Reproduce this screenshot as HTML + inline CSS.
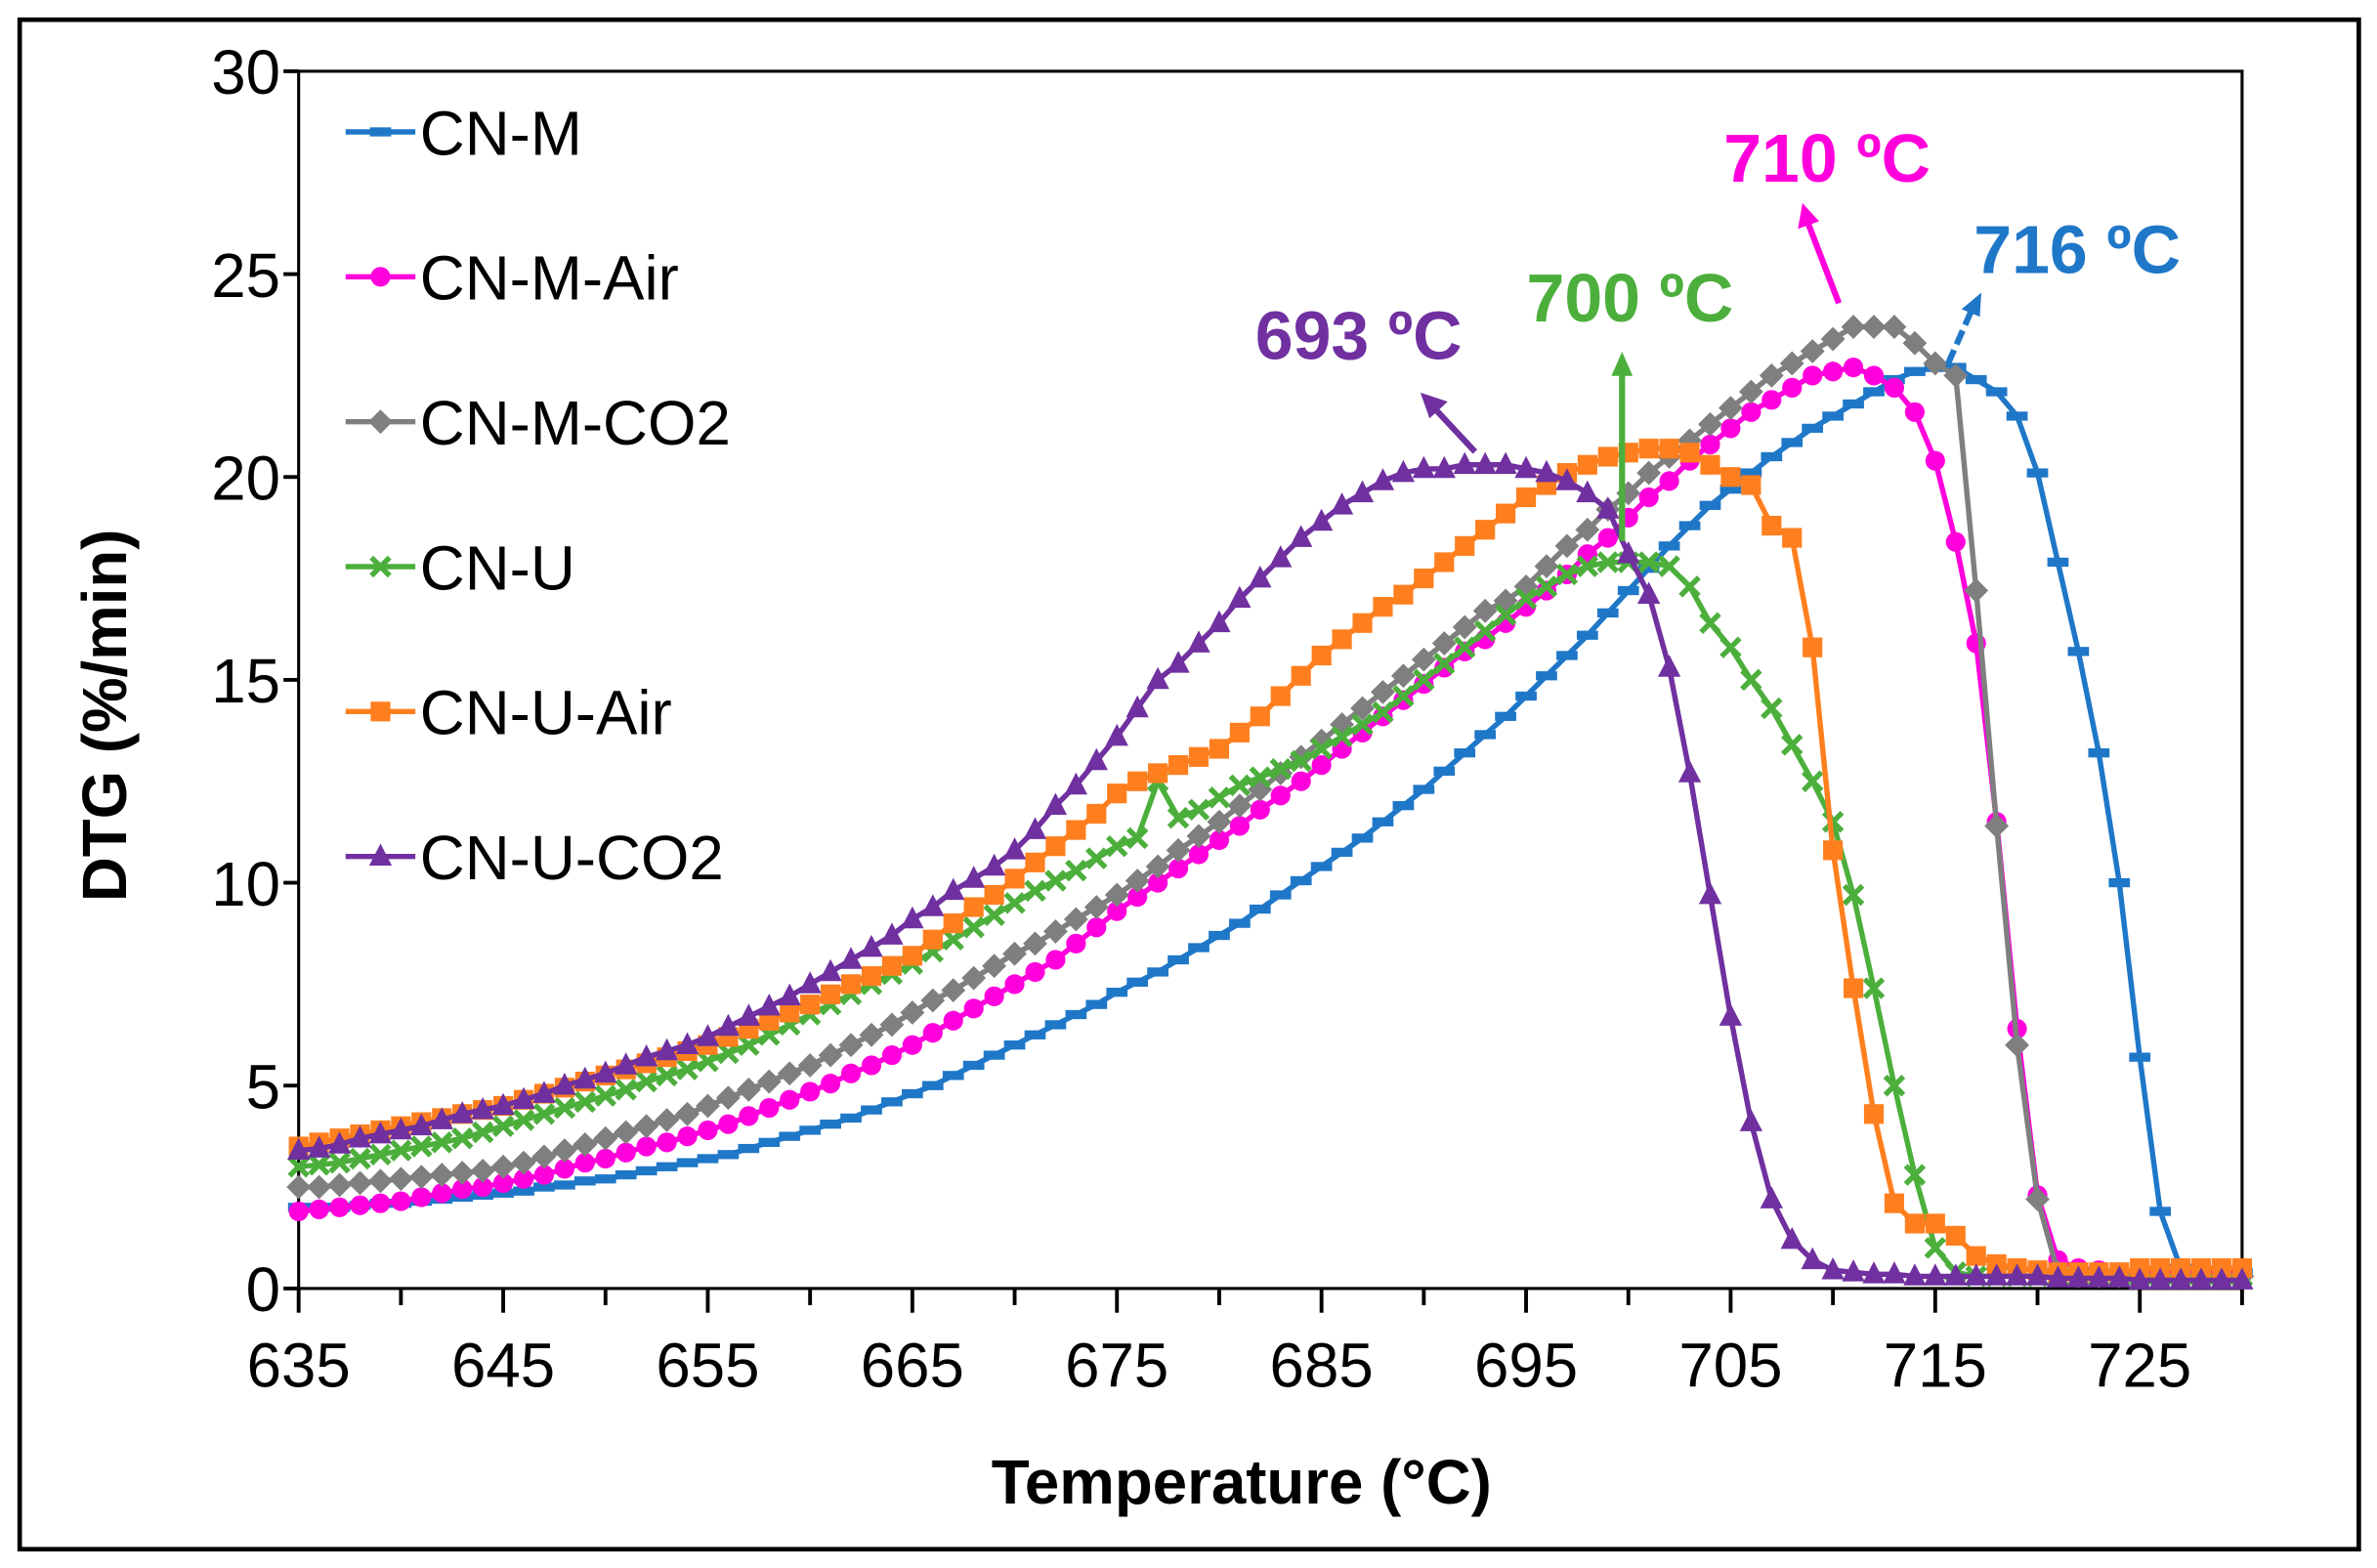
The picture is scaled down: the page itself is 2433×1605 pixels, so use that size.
<!DOCTYPE html>
<html><head><meta charset="utf-8"><style>
html,body{margin:0;padding:0;background:#fff;}
svg{display:block;}
text{font-family:"Liberation Sans",Arial,sans-serif;}
</style></head><body>
<svg id="chart" width="2433" height="1605" viewBox="0 0 1568 1034.4" preserveAspectRatio="none" xmlns="http://www.w3.org/2000/svg">
<rect x="13" y="13" width="1543" height="1009" fill="#fff" stroke="#000" stroke-width="3"/>
<g id="axes"></g>
<g id="series"></g>
<g id="legend"></g>
<g id="annotations" font-weight="bold" font-size="45">
<text x="828" y="237" fill="#7030A0">693 ºC</text>
<line x1="973" y1="298" x2="945" y2="268" stroke="#7030A0" stroke-width="4"/>
<polygon points="937,259 955,265 943,276" fill="#7030A0"/>
<text x="1007" y="212" fill="#4CAF3C">700 ºC</text>
<line x1="1070" y1="357" x2="1070" y2="245" stroke="#4CAF3C" stroke-width="4"/>
<polygon points="1070,232 1063,248 1077,248" fill="#4CAF3C"/>
<text x="1137" y="120" fill="#FF00DC">710 ºC</text>
<line x1="1213" y1="200" x2="1193" y2="148" stroke="#FF00DC" stroke-width="4"/>
<polygon points="1189,134 1186,151 1200,146" fill="#FF00DC"/>
<text x="1302" y="180" fill="#1F77C8">716 ºC</text>
<line x1="1285" y1="240" x2="1300" y2="206" stroke="#1F77C8" stroke-width="4" stroke-dasharray="10,4"/>
<polygon points="1307,193 1294,204 1306,209" fill="#1F77C8"/>
</g>
</svg>
<script>
const temps = [];
for (let t = 635; t <= 730; t++) temps.push(t);
const seriesNames = ["CN-M","CN-M-Air","CN-M-CO2","CN-U","CN-U-Air","CN-U-CO2"];
const xTicks = [635,645,655,665,675,685,695,705,715,725];
const yTicks = [0,5,10,15,20,25,30];
const cnM = [2.0,2.0,2.0,2.05,2.1,2.1,2.15,2.2,2.25,2.3, 2.35,2.4,2.5,2.55,2.65,2.7,2.8,2.9,3.0,3.1, 3.2,3.3,3.45,3.6,3.75,3.9,4.05,4.2,4.4,4.6, 4.8,5.0,5.25,5.5,5.75,6.0,6.25,6.5,6.75,7.0, 7.3,7.55,7.8,8.1,8.4,8.7,9.0,9.35,9.7,10.05, 10.4,10.75,11.1,11.5,11.9,12.3,12.75,13.2,13.65,14.1, 14.6,15.1,15.6,16.1,16.65,17.2,17.75,18.3,18.8,19.3, 19.7,20.1,20.5,20.85,21.2,21.5,21.8,22.1,22.4,22.6, 22.7,22.7,22.4,22.1,21.5,20.1,17.9,15.7,13.2,10.0, 5.7,1.9,0.5,0.4,0.4,0.4];
const cnMAir = [1.9,1.95,2.0,2.05,2.1,2.15,2.25,2.35,2.45,2.5, 2.6,2.7,2.8,2.95,3.1,3.2,3.35,3.5,3.6,3.75, 3.9,4.05,4.25,4.45,4.65,4.85,5.05,5.3,5.5,5.75, 6.0,6.3,6.6,6.9,7.2,7.5,7.8,8.1,8.5,8.9, 9.3,9.65,10.0,10.35,10.7,11.05,11.4,11.8,12.15,12.5, 12.9,13.3,13.7,14.1,14.5,14.9,15.3,15.7,16.0,16.4, 16.8,17.2,17.6,18.1,18.5,19.0,19.5,19.9,20.4,20.8, 21.2,21.6,21.9,22.2,22.5,22.6,22.7,22.5,22.2,21.6, 20.4,18.4,15.9,11.5,6.4,2.3,0.7,0.5,0.45,0.4, 0.4,0.4,0.4,0.4,0.4,0.4];
const cnMCO2 = [2.5,2.5,2.55,2.6,2.65,2.7,2.75,2.8,2.85,2.9, 3.0,3.1,3.25,3.4,3.55,3.7,3.85,4.0,4.15,4.3, 4.5,4.7,4.9,5.1,5.3,5.5,5.75,6.0,6.25,6.5, 6.8,7.1,7.35,7.65,7.95,8.25,8.5,8.8,9.1,9.4, 9.7,10.05,10.4,10.8,11.15,11.5,11.9,12.3,12.7,13.1, 13.5,13.9,14.3,14.7,15.1,15.5,15.9,16.3,16.7,16.95, 17.3,17.8,18.3,18.7,19.2,19.6,20.1,20.5,20.9,21.3, 21.7,22.1,22.5,22.8,23.1,23.4,23.7,23.7,23.7,23.3, 22.8,22.5,17.2,11.4,6.0,2.2,0.4,0.3,0.3,0.3, 0.3,0.3,0.3,0.3,0.3,0.3];
const cnU = [3.0,3.05,3.1,3.2,3.3,3.4,3.5,3.6,3.7,3.85, 4.0,4.15,4.3,4.45,4.6,4.75,4.9,5.1,5.25,5.4, 5.6,5.8,6.0,6.25,6.5,6.75,7.0,7.25,7.5,7.75, 8.0,8.3,8.6,8.9,9.2,9.5,9.8,10.05,10.3,10.6, 10.9,11.1,12.5,11.6,11.8,12.1,12.4,12.6,12.8,13.0, 13.3,13.6,13.9,14.2,14.6,15.0,15.4,15.8,16.2,16.6, 17.0,17.3,17.6,17.8,17.9,17.9,17.9,17.8,17.3,16.4, 15.8,15.0,14.3,13.4,12.5,11.5,9.7,7.4,5.0,2.8, 1.0,0.4,0.3,0.3,0.3,0.3,0.3,0.3,0.3,0.3, 0.3,0.3,0.3,0.3,0.3,0.3];
const cnUAir = [3.5,3.6,3.7,3.8,3.9,4.0,4.1,4.2,4.3,4.4, 4.5,4.65,4.8,4.95,5.1,5.25,5.4,5.55,5.7,5.85, 6.0,6.2,6.4,6.6,6.8,7.0,7.25,7.5,7.7,7.95, 8.2,8.6,9.0,9.4,9.7,10.1,10.5,10.9,11.3,11.7, 12.2,12.5,12.7,12.9,13.1,13.3,13.7,14.1,14.6,15.1, 15.6,16.0,16.4,16.8,17.1,17.5,17.9,18.3,18.7,19.1, 19.5,19.8,20.1,20.3,20.5,20.6,20.7,20.7,20.6,20.3, 20.0,19.8,18.8,18.5,15.8,10.8,7.4,4.3,2.1,1.6, 1.6,1.3,0.8,0.6,0.5,0.45,0.4,0.4,0.4,0.4, 0.5,0.5,0.5,0.5,0.5,0.5];
const cnUCO2 = [3.4,3.45,3.55,3.7,3.8,3.9,4.0,4.15,4.3,4.4, 4.5,4.65,4.8,5.0,5.15,5.3,5.5,5.7,5.85,6.0, 6.2,6.45,6.7,6.95,7.2,7.5,7.8,8.1,8.4,8.7, 9.1,9.4,9.8,10.1,10.4,10.8,11.3,11.9,12.4,13.0, 13.6,14.3,15.0,15.4,15.9,16.4,17.0,17.5,18.0,18.5, 18.9,19.3,19.6,19.9,20.1,20.2,20.2,20.3,20.3,20.3, 20.2,20.1,19.9,19.6,19.2,18.1,17.1,15.3,12.7,9.7, 6.7,4.1,2.2,1.2,0.7,0.45,0.4,0.35,0.35,0.3, 0.3,0.3,0.3,0.3,0.3,0.3,0.25,0.25,0.25,0.25, 0.2,0.2,0.2,0.2,0.2,0.2];

const NS = "http://www.w3.org/2000/svg";
const X0 = 197, X1 = 1479, Y0 = 850, Y1 = 47;
const xMin = 635, xMax = 730, yMin = 0, yMax = 30;
function xs(v){ return X0 + (v - xMin) / (xMax - xMin) * (X1 - X0); }
function ys(v){ return Y0 - (v - yMin) / (yMax - yMin) * (Y0 - Y1); }
function mk(tag, attrs, parent){ const e = document.createElementNS(NS, tag); for (const k in attrs) e.setAttribute(k, attrs[k]); parent.appendChild(e); return e; }

const axes = document.getElementById("axes");
let el;
el = mk("rect", {x:X0, y:Y1, width:X1-X0, height:Y0-Y1, fill:"none", stroke:"#000", "stroke-width":2}, axes);


yTicks.forEach(v => {
  const t = mk("line", {x1:X0-10, x2:X0, y1:ys(v), y2:ys(v), stroke:"#000", "stroke-width":2.5}, axes);
  
  
  const l = mk("text", {x:X0-12, y:ys(v)+15, "text-anchor":"end", "font-size":41}, axes);
  l.textContent = v;
  
  
});
for (let v = 635; v <= 730; v += 5) {
  const major = xTicks.includes(v);
  const t = mk("line", {x1:xs(v), x2:xs(v), y1:Y0, y2:Y0+(major?16:11), stroke:"#000", "stroke-width":2.5}, axes);
  
  
}
xTicks.forEach(v => {
  const l = mk("text", {x:xs(v), y:915, "text-anchor":"middle", "font-size":41}, axes);
  l.textContent = v;
  
  
});
el = mk("text", {x:819, y:992, "text-anchor":"middle", "font-size":41, "font-weight":"bold"}, axes);
el.textContent = "Temperature (°C)";


el = mk("text", {x:0, y:0, "text-anchor":"middle", "font-size":41, "font-weight":"bold", transform:"translate(83,472) rotate(-90)"}, axes);
el.textContent = "DTG (%/min)";



const colors = ["#1F77C8","#FF00DC","#7F7F7F","#4CAF3C","#FF7F1E","#7030A0"];
const markers = ["dash","circle","diamond","x","square","triangle"];
const allData = [cnM, cnMAir, cnMCO2, cnU, cnUAir, cnUCO2];

function drawMarker(g, type, cx, cy, c, s){
  let m;
  if (type==="dash") m = mk("rect", {x:cx-7, y:cy-3, width:14, height:6, fill:c}, g);
  else if (type==="circle") m = mk("circle", {cx:cx, cy:cy, r:6.5*s, fill:c}, g);
  else if (type==="diamond") m = mk("polygon", {points:`${cx},${cy-8*s} ${cx+8*s},${cy} ${cx},${cy+8*s} ${cx-8*s},${cy}`, fill:c}, g);
  else if (type==="square") m = mk("rect", {x:cx-6.5*s, y:cy-6.5*s, width:13*s, height:13*s, fill:c}, g);
  else if (type==="triangle") m = mk("polygon", {points:`${cx},${cy-8.5*s} ${cx+7.5*s},${cy+6*s} ${cx-7.5*s},${cy+6*s}`, fill:c}, g);
  else { m = mk("path", {d:`M${cx-6*s},${cy-6*s}L${cx+6*s},${cy+6*s}M${cx+6*s},${cy-6*s}L${cx-6*s},${cy+6*s}`, stroke:c, "stroke-width":3.5, fill:"none"}, g); }
  return m;
}

const sg = document.getElementById("series");
allData.forEach((arr, i) => {
  const g = mk("g", {}, sg);
  
  
  const d = arr.map((v, j) => (j ? "L" : "M") + xs(temps[j]).toFixed(1) + "," + ys(v).toFixed(1)).join("");
  const p = mk("path", {d:d, fill:"none", stroke:colors[i], "stroke-width":3.5}, g);
  
  
  arr.forEach((v, j) => {
    const m = drawMarker(g, markers[i], xs(temps[j]), ys(v), colors[i], 1);
    
    
  });
});

const lg = document.getElementById("legend");
seriesNames.forEach((n, i) => {
  const y = 87 + i * 95.6;
  const g = mk("g", {}, lg);
  
  
  mk("line", {x1:228, x2:274, y1:y, y2:y, stroke:colors[i], "stroke-width":3.5}, g);
  drawMarker(g, markers[i], 251, y, colors[i], 1);
  const t = mk("text", {x:277, y:y+15, "font-size":41}, g);
  t.textContent = n;
});
</script>
</body></html>
